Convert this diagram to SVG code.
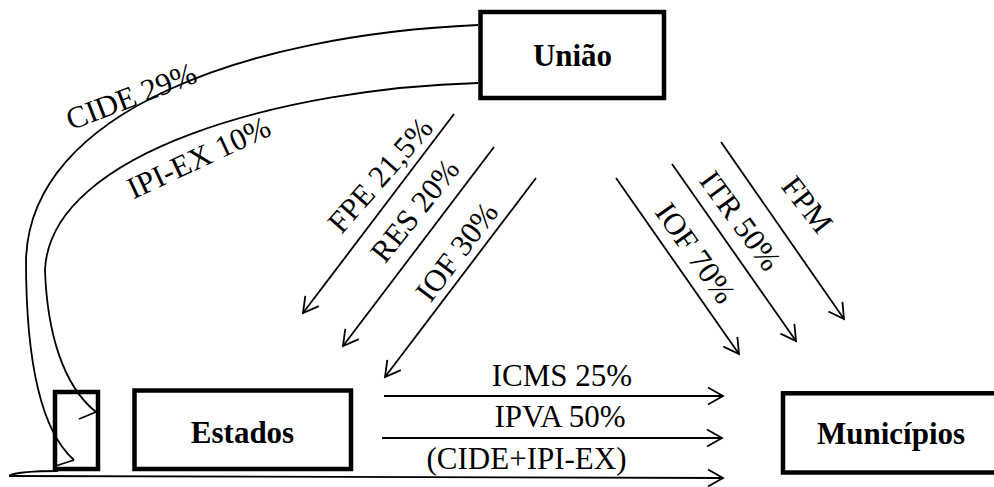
<svg xmlns="http://www.w3.org/2000/svg" width="994" height="487" viewBox="0 0 994 487">
<style>
.box{fill:#fff;stroke:#000;stroke-width:4.5}
.nl{font-family:"Liberation Serif","Times New Roman",serif;font-size:31px;font-weight:bold;text-anchor:middle;fill:#000}
.el{font-family:"Liberation Serif","Times New Roman",serif;font-size:31px;text-anchor:middle;fill:#000}
.ln{fill:none;stroke:#000;stroke-width:1.8}
.arr{fill:none;stroke:#000;stroke-width:1.8;marker-end:url(#ah)}
</style>
<defs>
<marker id="ah" markerUnits="userSpaceOnUse" markerWidth="20" markerHeight="20" viewBox="0 0 20 20" refX="17" refY="10" orient="auto">
<path d="M2,1.5 L17,10 L2,18.5" fill="none" stroke="#000" stroke-width="1.8"/>
</marker>
</defs>
<rect width="994" height="487" fill="#fff"/>
<g id="connectors">
<path class="ln" d="M478,25 C250,35 30,110 26,260 C26,360 40,430 74,460 M57,465.5 L74,460"/>
<path class="ln" d="M478,83 C290,88 50,150 45,270 C47,330 62,385 96,412 M79,419 L96,412"/>
<path class="arr" d="M454,114 L303,313"/>
<path class="arr" d="M494,147 L343,346"/>
<path class="arr" d="M536,178 L385,377"/>
<path class="arr" d="M616,178 L739,354"/>
<path class="arr" d="M672,164 L796,341"/>
<path class="arr" d="M721,142 L844,319"/>
<path class="arr" d="M384,396 L723,396"/>
<path class="arr" d="M382,438 L722,438"/>
<path class="arr" d="M9,476 L723,478"/>
<path class="ln" d="M9,475.5 Q20,471 58,471"/>
<text class="el" transform="translate(135,106) rotate(-21)">CIDE 29%</text>
<text class="el" transform="translate(203,167) rotate(-25)">IPI-EX 10%</text>
<text class="el" transform="translate(388,182) rotate(-48.7)">FPE 21,5%</text>
<text class="el" transform="translate(423,217) rotate(-51.4)">RES 20%</text>
<text class="el" transform="translate(465,258) rotate(-53)">IOF 30%</text>
<text class="el" transform="translate(687,259) rotate(54.8)">IOF 70%</text>
<text class="el" transform="translate(732,227) rotate(53.8)">ITR 50%</text>
<text class="el" transform="translate(799,211) rotate(52)">FPM</text>
<text class="el" x="562" y="386">ICMS 25%</text>
<text class="el" x="560" y="427">IPVA 50%</text>
<text class="el" x="526.5" y="469">(CIDE+IPI-EX)</text>
</g>
<g id="uniao">
<rect class="box" x="480.5" y="12" width="183.5" height="86"/>
<text class="nl" x="572.5" y="66">União</text>
</g>
<g id="caixa">
<rect class="box" x="55" y="392" width="43" height="77" fill="none" style="fill:none"/>
</g>
<g id="estados">
<rect class="box" x="134.5" y="390.5" width="216.5" height="78.5"/>
<text class="nl" x="242.5" y="443">Estados</text>
</g>
<g id="municipios">
<rect class="box" x="783" y="393.3" width="220" height="79.2"/>
<text class="nl" x="891" y="444">Municípios</text>
</g>
</svg>
